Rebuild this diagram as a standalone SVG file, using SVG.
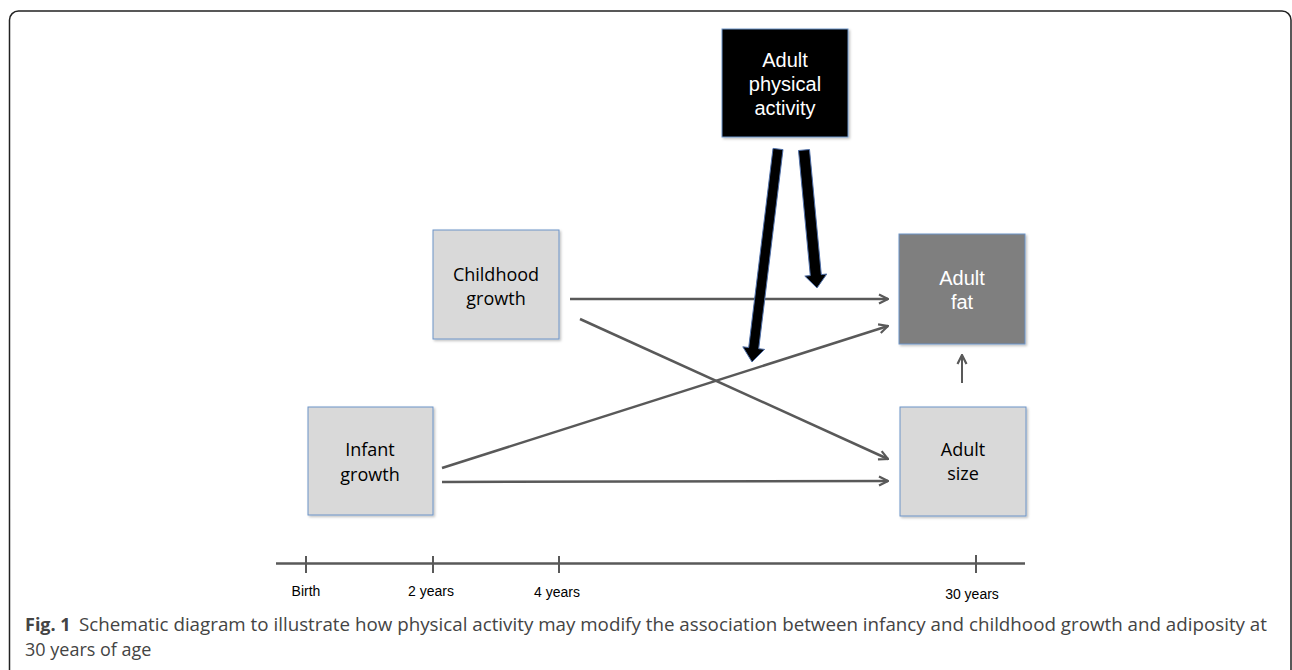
<svg xmlns="http://www.w3.org/2000/svg" width="1292" height="670" viewBox="0 0 1292 670">
<style>
.box{stroke:#6d93c7;stroke-width:1}
.light{fill:#d9d9d9}
.lbl{font-family:"Open Sans","Noto Sans",sans-serif;font-size:18px;fill:#000;text-anchor:middle}
.wlbl{font-family:"Liberation Sans",Arial,sans-serif;font-size:20px;fill:#fff;text-anchor:middle}
.tick{font-family:"Liberation Sans",Arial,sans-serif;font-size:14px;fill:#000;text-anchor:middle}
.conn{stroke:#595959;stroke-width:2.5;fill:none;marker-end:url(#chev)}
.thick{fill:#000;stroke:#4f6fa8;stroke-width:1;stroke-linejoin:miter}
.cap{font-family:"Open Sans","Noto Sans",sans-serif;font-size:18px;fill:#444}
</style>
<defs>
<marker id="chev" viewBox="0 0 12 12" refX="11" refY="6" markerWidth="12" markerHeight="12" markerUnits="userSpaceOnUse" orient="auto">
<path d="M2,1.5 L11,6 L2,10.5" fill="none" stroke="#595959" stroke-width="2.2"/>
</marker>
<filter id="sh" x="-10%" y="-10%" width="130%" height="130%">
<feDropShadow dx="1.5" dy="1.5" stdDeviation="1" flood-color="#000" flood-opacity="0.25"/>
</filter>
</defs>
<rect x="9.5" y="11" width="1281.5" height="720" rx="9" fill="none" stroke="#222" stroke-width="1.5"/>

<g id="connectors">
<line class="conn" x1="570" y1="299" x2="888" y2="299"/>
<line class="conn" x1="580" y1="319" x2="888" y2="459"/>
<line class="conn" x1="442" y1="468" x2="888" y2="326"/>
<line class="conn" x1="442" y1="482" x2="888" y2="481"/>
<line class="conn" x1="962" y1="383" x2="962" y2="355" style="stroke-width:2"/>
<polygon class="thick" points="773,148.4 783,149.6 758.7,348.7 764.6,349.4 752,362 742.8,346.8 748.7,347.5"/>
<polygon class="thick" points="798.5,150.5 809.5,149.5 821.3,274.6 826.8,274 817,288 804.8,276.1 810.3,275.6"/>
</g>

<g id="node-activity">
<rect class="box" x="722" y="29" width="126" height="108" fill="#000" filter="url(#sh)"/>
<text class="wlbl" x="785" y="67">Adult</text>
<text class="wlbl" x="785" y="91">physical</text>
<text class="wlbl" x="785" y="115">activity</text>
</g>

<g id="node-childhood">
<rect class="box light" x="433" y="230" width="126" height="109" filter="url(#sh)"/>
<text class="lbl" x="496" y="281">Childhood</text>
<text class="lbl" x="496" y="305">growth</text>
</g>

<g id="node-infant">
<rect class="box light" x="308" y="407" width="125" height="108" filter="url(#sh)"/>
<text class="lbl" x="370" y="456">Infant</text>
<text class="lbl" x="370" y="481">growth</text>
</g>

<g id="node-fat">
<rect class="box" x="899" y="234" width="126" height="110" fill="#7f7f7f" filter="url(#sh)"/>
<text class="wlbl" x="962" y="285">Adult</text>
<text class="wlbl" x="962" y="309">fat</text>
</g>

<g id="node-size">
<rect class="box light" x="900" y="407" width="126" height="109" filter="url(#sh)"/>
<text class="lbl" x="963" y="456">Adult</text>
<text class="lbl" x="963" y="480">size</text>
</g>

<g id="timeline" stroke="#595959" stroke-width="2.5">
<line x1="276" y1="563.5" x2="1025" y2="563.5"/>
<line x1="306" y1="556" x2="306" y2="573" stroke-width="2"/>
<line x1="433" y1="556" x2="433" y2="573" stroke-width="2"/>
<line x1="559" y1="556" x2="559" y2="573" stroke-width="2"/>
<line x1="976" y1="555" x2="976" y2="573" stroke-width="2"/>
</g>
<text class="tick" x="306" y="596">Birth</text>
<text class="tick" x="431" y="596">2 years</text>
<text class="tick" x="557" y="597">4 years</text>
<text class="tick" x="972" y="599">30 years</text>

<text class="cap" x="25" y="631" font-weight="bold" fill="#111">Fig. 1</text>
<text class="cap" x="79" y="631" textLength="1188" lengthAdjust="spacingAndGlyphs">Schematic diagram to illustrate how physical activity may modify the association between infancy and childhood growth and adiposity at</text>
<text class="cap" x="25" y="656">30 years of age</text>
</svg>
